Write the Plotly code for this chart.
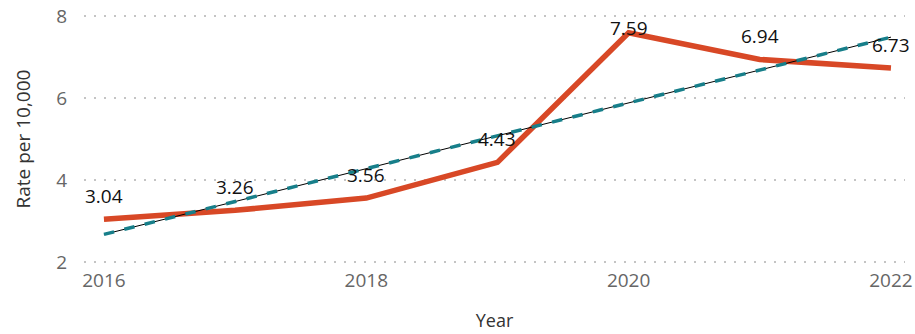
import numpy as np
import plotly.graph_objects as go


# ==========================================================
# Data
# ==========================================================

years = [2016, 2017, 2018, 2019, 2020, 2021, 2022]
rates = [3.04, 3.26, 3.56, 4.43, 7.59, 6.94, 6.73]

# linear trend through the yearly rates
slope, intercept = np.polyfit(years, rates, 1)
trend_x = [years[0], years[-1]]
trend_y = [slope * x + intercept for x in trend_x]


# ==========================================================
# Chart
# ==========================================================

FONT = "Open Sans"

fig = go.Figure()

fig.add_trace(
    go.Scatter(
        x=years,
        y=rates,
        mode="lines",
        line=dict(color="#D84826", width=5.5),
        hoverinfo="skip",
    )
)

fig.add_trace(
    go.Scatter(
        x=trend_x,
        y=trend_y,
        mode="lines",
        line=dict(color="#000000", width=1),
        hoverinfo="skip",
    )
)

fig.add_trace(
    go.Scatter(
        x=trend_x,
        y=trend_y,
        mode="lines",
        line=dict(color="#177F8A", width=3.5, dash="dash"),
        hoverinfo="skip",
    )
)

# data labels above each point, kept inside the plot area
for x, y in zip(years, rates):
    shift = 23
    if y > 7.3:
        shift = 5
    fig.add_annotation(
        x=x,
        y=y,
        text=f"{y:.2f}",
        showarrow=False,
        yanchor="middle",
        yshift=shift,
        font=dict(family=FONT, size=19, color="#111111"),
    )

fig.update_layout(
    width=915,
    height=334,
    showlegend=False,
    plot_bgcolor="white",
    paper_bgcolor="white",
    margin=dict(
        l=84,
        r=10,
        t=15,
        b=71,
    ),
    font=dict(family=FONT, color="#666666"),
)

fig.update_xaxes(
    range=[2015.848, 2022.107],
    tickvals=[2016, 2018, 2020, 2022],
    showgrid=False,
    zeroline=False,
    showline=False,
    automargin=False,
    ticklabelstandoff=4,
    tickfont=dict(size=19, color="#666666"),
    title=dict(text="Year", font=dict(size=18, color="#333333"), standoff=22),
)

fig.update_yaxes(
    range=[1.975, 8.025],
    tickvals=[2, 4, 6, 8],
    showgrid=True,
    gridcolor="#C4C4C4",
    griddash="2px,8px",
    gridwidth=2,
    zeroline=False,
    showline=False,
    automargin=False,
    ticklabelstandoff=16,
    tickfont=dict(size=19, color="#666666"),
    title=dict(text="Rate per 10,000", font=dict(size=19, color="#333333"), standoff=20),
)

fig.write_html(
    "out.html",
    config={"displayModeBar": False},
    post_script="document.body.style.margin='0';",
)
